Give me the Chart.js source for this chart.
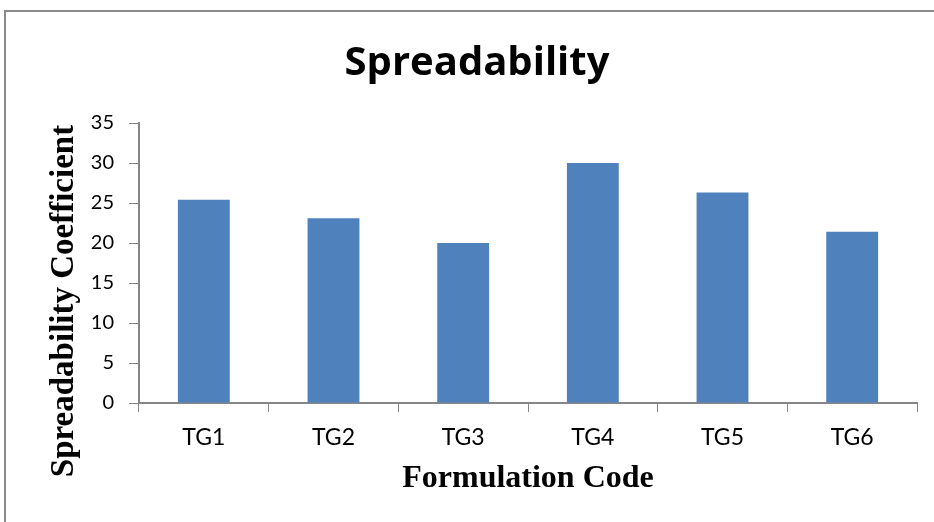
<!DOCTYPE html>
<html>
<head>
<meta charset="utf-8">
<script src="https://cdn.jsdelivr.net/npm/chart.js@4.4.1/dist/chart.umd.min.js"></script>
<style>
  html, body { margin: 0; padding: 0; background: #ffffff; }
  #wrap { position: relative; width: 934px; height: 522px; overflow: hidden; background: #fff; }
  #frame { position: absolute; left: 4px; top: 10px; width: 960px; height: 560px;
           border-left: 2px solid #8a8a8a; border-top: 2px solid #8a8a8a; box-sizing: border-box; }
  canvas { position: absolute; left: 0; top: 0; }
</style>
</head>
<body>
<div id="wrap">
  <div id="frame"></div>
  <canvas id="c" width="934" height="522"></canvas>
</div>
<script>
const categories = ["TG1", "TG2", "TG3", "TG4", "TG5", "TG6"];
const spreadability = [25.4, 23.1, 20.0, 30.0, 26.3, 21.4];
const yTicks = [0, 5, 10, 15, 20, 25, 30, 35];
const yAxisTitle = "Spreadability Coefficient";

const axisGray = "#868686";

// Y-axis title drawn as text, offset lower than the plot centre as in the reference
const yTitlePlugin = {
  id: "yTitle",
  afterDraw(chart) {
    const ctx = chart.ctx;
    ctx.save();
    ctx.translate(64, 301);
    ctx.rotate(-Math.PI / 2);
    ctx.font = "bold 33px 'Liberation Serif'";
    ctx.fillStyle = "#000";
    ctx.textAlign = "center";
    ctx.textBaseline = "middle";
    ctx.fillText(yAxisTitle, 0, 0);
    ctx.restore();
  }
};

new Chart(document.getElementById("c"), {
  type: "bar",
  data: {
    labels: categories,
    datasets: [{
      label: "Spreadability",
      data: spreadability,
      backgroundColor: "#4F81BD",
      borderWidth: 0,
      barPercentage: 0.4,
      categoryPercentage: 1.0
    }]
  },
  plugins: [yTitlePlugin],
  options: {
    responsive: false,
    animation: false,
    devicePixelRatio: 1,
    layout: { padding: { left: 37, right: 17, top: 0, bottom: 0 } },
    plugins: {
      legend: { display: false },
      tooltip: { enabled: false },
      title: {
        display: true,
        text: "Spreadability",
        color: "#000",
        font: { family: "'Open Sans'", weight: "bold", size: 40 },
        padding: { top: 40, bottom: 35 }
      }
    },
    scales: {
      x: {
        grid: { display: true, offset: true, drawOnChartArea: false, drawTicks: true, tickLength: 9, color: axisGray, lineWidth: 1 },
        border: { display: true, color: axisGray, width: 2 },
        ticks: { color: "#000", font: { family: "Lato", size: 23 }, padding: 12 },
        title: {
          display: true,
          text: "Formulation Code",
          color: "#000",
          font: { family: "'Liberation Serif'", weight: "bold", size: 32 },
          padding: { top: -4, bottom: 24 }
        }
      },
      y: {
        min: 0,
        max: 35,
        afterBuildTicks: (axis) => { axis.ticks = yTicks.map(v => ({ value: v })); },
        afterFit: (axis) => { axis.width = 102; },
        grid: { display: true, drawOnChartArea: false, drawTicks: true, tickLength: 10, color: axisGray, lineWidth: 1 },
        border: { display: true, color: axisGray, width: 2 },
        ticks: { color: "#000", font: { family: "Lato", size: 20 }, padding: 15 },
        title: { display: false }
      }
    }
  }
});
</script>
</body>
</html>
